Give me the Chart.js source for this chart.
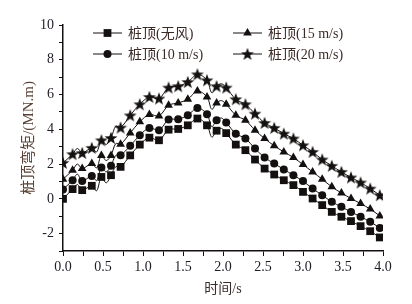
<!DOCTYPE html>
<html>
<head>
<meta charset="utf-8">
<script src="https://cdn.jsdelivr.net/npm/chart.js@4"></script>
<style>
  html, body { margin: 0; padding: 0; background: #fff; }
</style>
</head>
<body>
<canvas id="chart" width="412" height="304"></canvas>
<script>
// 时间 (s), 每个标记点
const times = [0.00, 0.12, 0.24, 0.36, 0.48, 0.60, 0.72, 0.84, 0.96, 1.08, 1.20, 1.32,
  1.44, 1.56, 1.68, 1.80, 1.92, 2.04, 2.16, 2.28, 2.40, 2.52, 2.64, 2.76, 2.88, 3.00,
  3.12, 3.24, 3.36, 3.48, 3.60, 3.72, 3.84, 3.96];

// 桩顶弯矩 (MN.m)
const noWind = [0.00, 0.56, 0.50, 0.75, 1.26, 1.36, 1.84, 2.50, 3.12, 3.52, 3.37, 3.98,
  4.02, 4.23, 4.62, 4.23, 3.92, 3.78, 3.12, 2.80, 2.26, 1.74, 1.40, 1.07, 0.79, 0.40,
  0.02, -0.36, -0.75, -1.03, -1.28, -1.57, -1.86, -2.22];
const wind10 = [0.54, 1.07, 1.02, 1.32, 1.80, 1.90, 2.51, 3.05, 3.66, 4.08, 3.95, 4.56,
  4.58, 4.81, 5.23, 4.87, 4.52, 4.39, 3.75, 3.47, 2.89, 2.38, 2.03, 1.69, 1.36, 1.02,
  0.59, 0.21, -0.17, -0.46, -0.75, -1.03, -1.32, -1.67];
const wind15 = [1.13, 1.65, 1.74, 2.03, 2.50, 2.50, 3.14, 3.79, 4.43, 4.85, 4.77, 5.38,
  5.52, 5.73, 6.20, 5.86, 5.52, 5.44, 4.81, 4.52, 3.95, 3.47, 3.05, 2.70, 2.38, 1.97,
  1.55, 1.13, 0.69, 0.34, 0.02, -0.27, -0.59, -0.98];
const wind20 = [2.07, 2.57, 2.64, 2.93, 3.37, 3.50, 4.10, 4.80, 5.44, 5.86, 5.77, 6.40,
  6.48, 6.72, 7.16, 6.82, 6.48, 6.40, 5.73, 5.44, 4.90, 4.37, 4.08, 3.75, 3.47, 3.08,
  2.70, 2.26, 1.90, 1.55, 1.23, 0.94, 0.59, 0.21];

// 标记点之间曲线的起伏
const wiggleTimes = [0.18, 0.42, 0.54, 0.66, 1.86, 1.98];
const noWindWiggle = [0.82, 0.46, 0.92, 1.85, 3.55, 4.05];
const wind10Wiggle = [1.42, 1.05, 1.55, 2.50, 4.15, 4.65];
const wind15Wiggle = [2.00, 1.78, 2.20, 3.18, 5.15, 5.65];
const wind20Wiggle = [2.90, 2.70, 3.13, 4.18, 6.10, 6.62];

const seriesNames = ['桩顶(无风)', '桩顶(10 m/s)', '桩顶(15 m/s)', '桩顶(20 m/s)'];

const ink = '#141010';
const serif = "'Liberation Serif', 'Noto Sans CJK SC', serif";

// 实心五角星
const starImg = document.createElement('canvas');
starImg.width = 14;
starImg.height = 14;
(function () {
  const c = starImg.getContext('2d');
  c.fillStyle = ink;
  c.beginPath();
  for (let k = 0; k < 10; k++) {
    const r = k % 2 === 0 ? 6.8 : 2.8;
    const a = -Math.PI / 2 + k * Math.PI / 5;
    const px = 7 + r * Math.cos(a);
    const py = 7.5 + r * Math.sin(a);
    if (k === 0) c.moveTo(px, py); else c.lineTo(px, py);
  }
  c.closePath();
  c.fill();
})();

function buildLine(values, wiggles) {
  const pts = times.map((t, i) => ({ x: t, y: values[i], m: true }));
  wiggleTimes.forEach((t, i) => pts.push({ x: t, y: wiggles[i], m: false }));
  pts.sort((a, b) => a.x - b.x);
  return pts;
}

function makeSet(label, values, wiggles, style, r) {
  return {
    label,
    data: buildLine(values, wiggles),
    borderColor: ink,
    backgroundColor: ink,
    borderWidth: 1,
    tension: 0.35,
    pointStyle: style,
    pointRadius: (c) => (c.raw && c.raw.m ? r : 0),
    pointHoverRadius: (c) => (c.raw && c.raw.m ? r : 0),
    pointBorderWidth: 0,
    markerRadius: r,
  };
}

const datasets = [
  makeSet(seriesNames[0], noWind, noWindWiggle, 'rect', 5.5),
  makeSet(seriesNames[1], wind10, wind10Wiggle, 'circle', 4),
  makeSet(seriesNames[2], wind15, wind15Wiggle, 'triangle', 5),
  makeSet(seriesNames[3], wind20, wind20Wiggle, starImg, 7),
];

// 图例画在绘图区内，两列
const legendPos = [
  { x: 93, y: 33 },
  { x: 93, y: 54 },
  { x: 233, y: 33 },
  { x: 233, y: 54 },
];

const innerLegend = {
  id: 'innerLegend',
  afterDraw(chart) {
    const ctx = chart.ctx;
    ctx.save();
    chart.data.datasets.forEach((ds, i) => {
      const p = legendPos[i];
      ctx.strokeStyle = ink;
      ctx.fillStyle = ink;
      ctx.lineWidth = 1;
      ctx.beginPath();
      ctx.moveTo(p.x, p.y);
      ctx.lineTo(p.x + 29, p.y);
      ctx.stroke();
      Chart.helpers.drawPoint(ctx, {
        pointStyle: ds.pointStyle,
        radius: ds.markerRadius,
        rotation: 0,
        borderWidth: 0,
      }, p.x + 14.5, p.y);
      ctx.fillStyle = '#3a2a26';
      ctx.font = '14px ' + serif;
      ctx.textBaseline = 'middle';
      ctx.textAlign = 'left';
      ctx.fillText(ds.label, p.x + 35, p.y + 1);
    });
    ctx.restore();
  },
};

new Chart(document.getElementById('chart'), {
  type: 'line',
  data: { datasets },
  plugins: [innerLegend],
  options: {
    responsive: false,
    animation: false,
    devicePixelRatio: 1,
    layout: { padding: { top: 25, right: 29, left: 0, bottom: 0 } },
    plugins: {
      legend: { display: false },
      tooltip: { enabled: false },
    },
    scales: {
      x: {
        type: 'linear',
        min: 0,
        max: 4,
        afterFit: (s) => { s.height = 53; },
        ticks: {
          stepSize: 0.25,
          autoSkip: false,
          maxRotation: 0,
          padding: 3,
          color: '#1f1c26',
          font: { family: serif, size: 14 },
          callback: (v) => (Math.abs(v * 2 - Math.round(v * 2)) < 1e-6 ? v.toFixed(1) : ''),
        },
        grid: { drawOnChartArea: false, drawTicks: true, tickLength: 5, color: ink, tickWidth: 1 },
        border: { display: true, color: ink, width: 1.5 },
        title: {
          display: true,
          text: '时间/s',
          color: '#3a2e2a',
          font: { family: serif, size: 14 },
          padding: { top: 0, bottom: 6 },
        },
      },
      y: {
        min: -3,
        max: 10,
        afterFit: (s) => { s.width = 63; },
        ticks: {
          stepSize: 1,
          autoSkip: false,
          padding: 5,
          color: '#1f1c26',
          font: { family: serif, size: 14 },
          callback: (v) => (v % 2 === 0 ? String(v) : ''),
        },
        grid: { drawOnChartArea: false, drawTicks: true, tickLength: 4, color: ink, tickWidth: 1 },
        border: { display: true, color: ink, width: 1.5 },
        title: {
          display: true,
          text: '桩顶弯矩/(MN.m)',
          color: '#5a4336',
          font: { family: serif, size: 15 },
          padding: { top: 20, bottom: 0 },
        },
      },
    },
  },
});
</script>
</body>
</html>
